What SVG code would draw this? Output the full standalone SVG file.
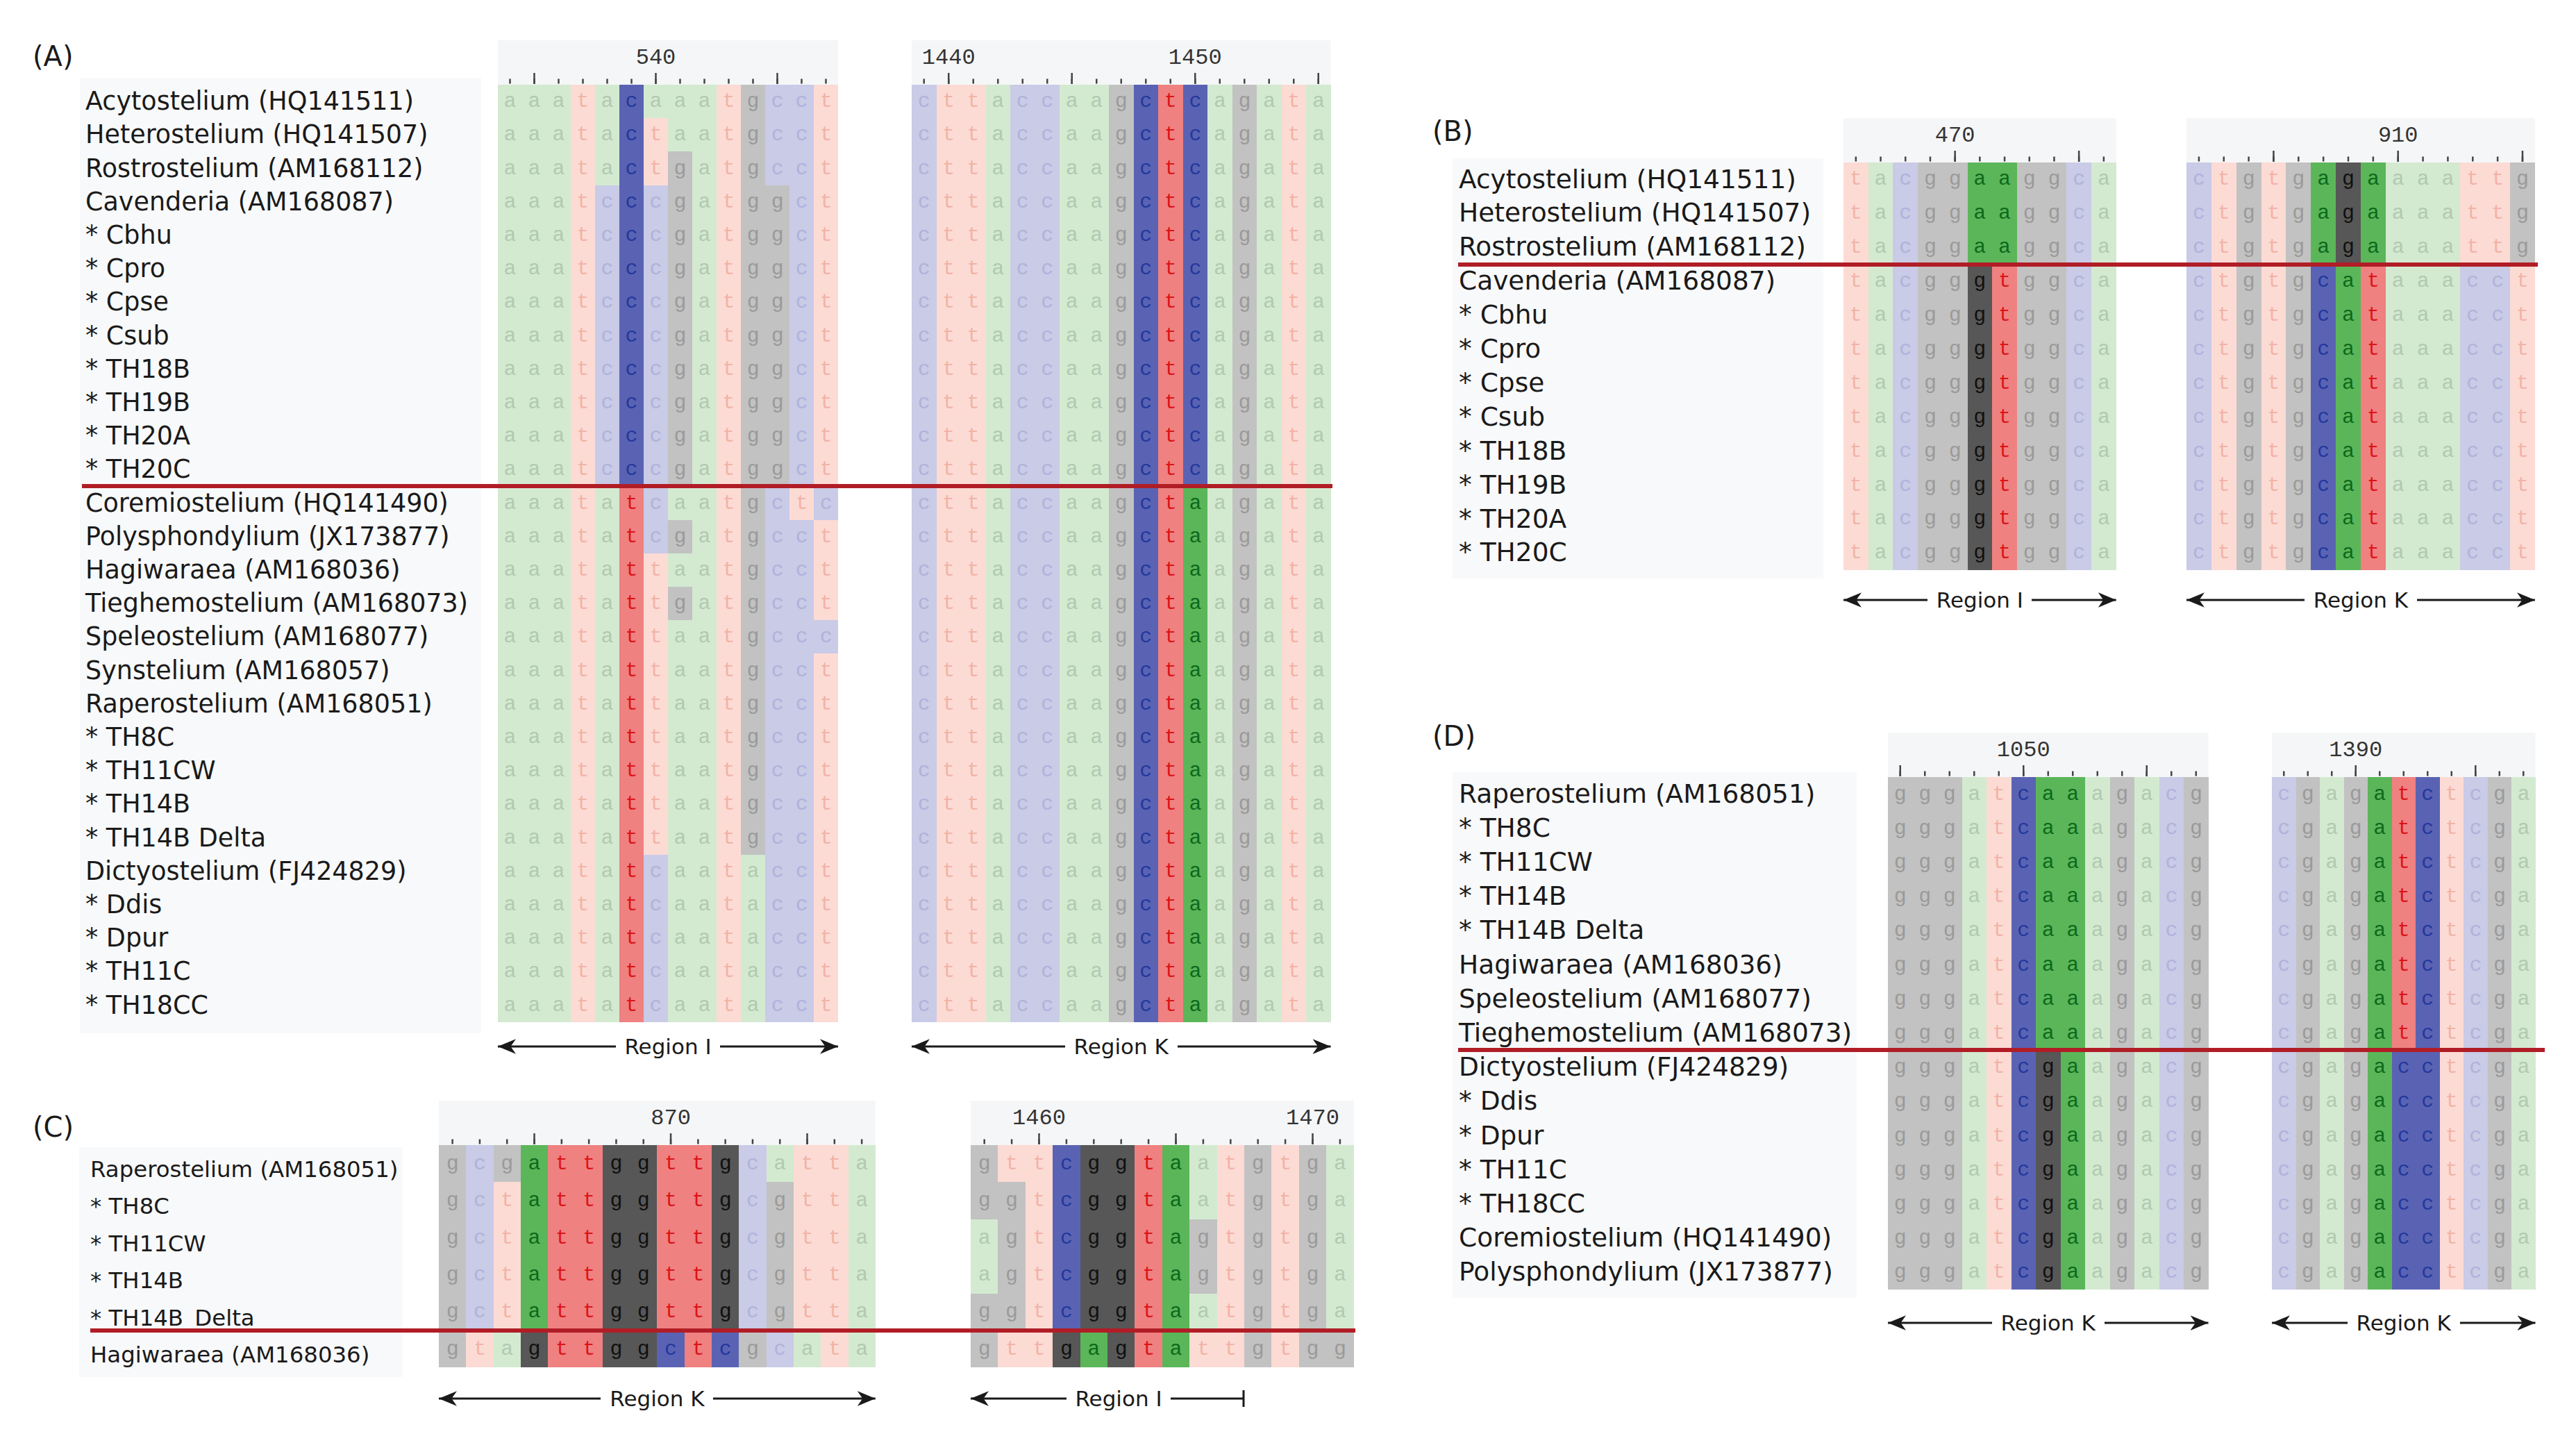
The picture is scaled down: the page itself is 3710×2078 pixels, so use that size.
<svg xmlns="http://www.w3.org/2000/svg" width="3710" height="2078" viewBox="0 0 3710 2078">
<style>
.n{font-family:"DejaVu Sans",Verdana,sans-serif;font-size:36.5px;fill:#1a1a1a}
.nb2{font-size:37.5px}
.nc{font-size:32.4px}
.sq{font-family:"Liberation Mono","Courier New",monospace;font-size:30px}
.sq .a{fill:#b2c9b0}.sq .t{fill:#f2b3a5}.sq .c{fill:#afb3da}.sq .g{fill:#9a9a9a}
.sq .ha{fill:#0b6a1c}.sq .ht{fill:#dc1418}.sq .hc{fill:#24389c}.sq .hg{fill:#101010}
.ba{fill:#d3ead1}.bt{fill:#fcdbd5}.bc{fill:#c9cbe7}.bg{fill:#c2c2c2}
.da{fill:#5bb659}.dt{fill:#ef8181}.dc{fill:#5a63b3}.dg{fill:#575757}
.rn{font-family:"Liberation Mono","Courier New",monospace;font-size:32px;fill:#333;text-anchor:middle}
.tk{stroke:#444;fill:none}
.rl{font-family:"DejaVu Sans",Verdana,sans-serif;font-size:31px;fill:#1a1a1a;text-anchor:middle}
.ar{stroke:#1a1a1a;stroke-width:3;fill:none}
.red{stroke:#b11d26;stroke-width:6}
.pl{font-family:"DejaVu Sans",Verdana,sans-serif;font-size:40px;fill:#1a1a1a}
.rb{fill:#f5f6f7}.nb{fill:#f8f9fa}
</style>
<defs>
<marker id="ah" viewBox="0 0 12 10" refX="12" refY="5" markerWidth="26" markerHeight="22" markerUnits="userSpaceOnUse" orient="auto"><path d="M0,0 L12,5 L0,10 L3.5,5 z" fill="#1a1a1a"/></marker>
<text id="a1r0" class="sq" letter-spacing="17"><tspan class="a">aaa</tspan><tspan class="t">t</tspan><tspan class="a">a</tspan><tspan class="hc">c</tspan><tspan class="a">aaa</tspan><tspan class="t">t</tspan><tspan class="g">g</tspan><tspan class="c">cc</tspan><tspan class="t">t</tspan></text>
<text id="a1r1" class="sq" letter-spacing="17"><tspan class="a">aaa</tspan><tspan class="t">t</tspan><tspan class="a">a</tspan><tspan class="hc">c</tspan><tspan class="t">t</tspan><tspan class="a">aa</tspan><tspan class="t">t</tspan><tspan class="g">g</tspan><tspan class="c">cc</tspan><tspan class="t">t</tspan></text>
<text id="a1r2" class="sq" letter-spacing="17"><tspan class="a">aaa</tspan><tspan class="t">t</tspan><tspan class="a">a</tspan><tspan class="hc">c</tspan><tspan class="t">t</tspan><tspan class="g">g</tspan><tspan class="a">a</tspan><tspan class="t">t</tspan><tspan class="g">g</tspan><tspan class="c">cc</tspan><tspan class="t">t</tspan></text>
<text id="a1r3" class="sq" letter-spacing="17"><tspan class="a">aaa</tspan><tspan class="t">t</tspan><tspan class="c">c</tspan><tspan class="hc">c</tspan><tspan class="c">c</tspan><tspan class="g">g</tspan><tspan class="a">a</tspan><tspan class="t">t</tspan><tspan class="g">gg</tspan><tspan class="c">c</tspan><tspan class="t">t</tspan></text>
<text id="a1r12" class="sq" letter-spacing="17"><tspan class="a">aaa</tspan><tspan class="t">t</tspan><tspan class="a">a</tspan><tspan class="ht">t</tspan><tspan class="c">c</tspan><tspan class="a">aa</tspan><tspan class="t">t</tspan><tspan class="g">g</tspan><tspan class="c">c</tspan><tspan class="t">t</tspan><tspan class="c">c</tspan></text>
<text id="a1r13" class="sq" letter-spacing="17"><tspan class="a">aaa</tspan><tspan class="t">t</tspan><tspan class="a">a</tspan><tspan class="ht">t</tspan><tspan class="c">c</tspan><tspan class="g">g</tspan><tspan class="a">a</tspan><tspan class="t">t</tspan><tspan class="g">g</tspan><tspan class="c">cc</tspan><tspan class="t">t</tspan></text>
<text id="a1r14" class="sq" letter-spacing="17"><tspan class="a">aaa</tspan><tspan class="t">t</tspan><tspan class="a">a</tspan><tspan class="ht">t</tspan><tspan class="t">t</tspan><tspan class="a">aa</tspan><tspan class="t">t</tspan><tspan class="g">g</tspan><tspan class="c">cc</tspan><tspan class="t">t</tspan></text>
<text id="a1r15" class="sq" letter-spacing="17"><tspan class="a">aaa</tspan><tspan class="t">t</tspan><tspan class="a">a</tspan><tspan class="ht">t</tspan><tspan class="t">t</tspan><tspan class="g">g</tspan><tspan class="a">a</tspan><tspan class="t">t</tspan><tspan class="g">g</tspan><tspan class="c">cc</tspan><tspan class="t">t</tspan></text>
<text id="a1r16" class="sq" letter-spacing="17"><tspan class="a">aaa</tspan><tspan class="t">t</tspan><tspan class="a">a</tspan><tspan class="ht">t</tspan><tspan class="t">t</tspan><tspan class="a">aa</tspan><tspan class="t">t</tspan><tspan class="g">g</tspan><tspan class="c">ccc</tspan></text>
<text id="a1r23" class="sq" letter-spacing="17"><tspan class="a">aaa</tspan><tspan class="t">t</tspan><tspan class="a">a</tspan><tspan class="ht">t</tspan><tspan class="c">c</tspan><tspan class="a">aa</tspan><tspan class="t">t</tspan><tspan class="a">a</tspan><tspan class="c">cc</tspan><tspan class="t">t</tspan></text>
<text id="a2r0" class="sq" letter-spacing="17.5"><tspan class="c">c</tspan><tspan class="t">tt</tspan><tspan class="a">a</tspan><tspan class="c">cc</tspan><tspan class="a">aa</tspan><tspan class="g">g</tspan><tspan class="hc">c</tspan><tspan class="ht">t</tspan><tspan class="hc">c</tspan><tspan class="a">a</tspan><tspan class="g">g</tspan><tspan class="a">a</tspan><tspan class="t">t</tspan><tspan class="a">a</tspan></text>
<text id="a2r1" class="sq" letter-spacing="17.5"><tspan class="c">c</tspan><tspan class="t">tt</tspan><tspan class="a">a</tspan><tspan class="c">cc</tspan><tspan class="a">aa</tspan><tspan class="g">g</tspan><tspan class="hc">c</tspan><tspan class="ht">t</tspan><tspan class="ha">a</tspan><tspan class="a">a</tspan><tspan class="g">g</tspan><tspan class="a">a</tspan><tspan class="t">t</tspan><tspan class="a">a</tspan></text>
<text id="b1r0" class="sq" letter-spacing="17.7"><tspan class="t">t</tspan><tspan class="a">a</tspan><tspan class="c">c</tspan><tspan class="g">gg</tspan><tspan class="ha">aa</tspan><tspan class="g">gg</tspan><tspan class="c">c</tspan><tspan class="a">a</tspan></text>
<text id="b1r1" class="sq" letter-spacing="17.7"><tspan class="t">t</tspan><tspan class="a">a</tspan><tspan class="c">c</tspan><tspan class="g">gg</tspan><tspan class="hg">g</tspan><tspan class="ht">t</tspan><tspan class="g">gg</tspan><tspan class="c">c</tspan><tspan class="a">a</tspan></text>
<text id="b2r0" class="sq" letter-spacing="17.85"><tspan class="c">c</tspan><tspan class="t">t</tspan><tspan class="g">g</tspan><tspan class="t">t</tspan><tspan class="g">g</tspan><tspan class="ha">a</tspan><tspan class="hg">g</tspan><tspan class="ha">a</tspan><tspan class="a">aaa</tspan><tspan class="t">tt</tspan><tspan class="g">g</tspan></text>
<text id="b2r1" class="sq" letter-spacing="17.85"><tspan class="c">c</tspan><tspan class="t">t</tspan><tspan class="g">g</tspan><tspan class="t">t</tspan><tspan class="g">g</tspan><tspan class="hc">c</tspan><tspan class="ha">a</tspan><tspan class="ht">t</tspan><tspan class="a">aaa</tspan><tspan class="c">cc</tspan><tspan class="t">t</tspan></text>
<text id="c1r0" class="sq" letter-spacing="21.3"><tspan class="g">g</tspan><tspan class="c">c</tspan><tspan class="g">g</tspan><tspan class="ha">a</tspan><tspan class="ht">tt</tspan><tspan class="hg">gg</tspan><tspan class="ht">tt</tspan><tspan class="hg">g</tspan><tspan class="c">c</tspan><tspan class="a">a</tspan><tspan class="t">tt</tspan><tspan class="a">a</tspan></text>
<text id="c1r1" class="sq" letter-spacing="21.3"><tspan class="g">g</tspan><tspan class="c">c</tspan><tspan class="t">t</tspan><tspan class="ha">a</tspan><tspan class="ht">tt</tspan><tspan class="hg">gg</tspan><tspan class="ht">tt</tspan><tspan class="hg">g</tspan><tspan class="c">c</tspan><tspan class="g">g</tspan><tspan class="t">tt</tspan><tspan class="a">a</tspan></text>
<text id="c1r5" class="sq" letter-spacing="21.3"><tspan class="g">g</tspan><tspan class="t">t</tspan><tspan class="a">a</tspan><tspan class="hg">g</tspan><tspan class="ht">tt</tspan><tspan class="hg">gg</tspan><tspan class="hc">c</tspan><tspan class="ht">t</tspan><tspan class="hc">c</tspan><tspan class="g">g</tspan><tspan class="c">c</tspan><tspan class="a">a</tspan><tspan class="t">t</tspan><tspan class="a">a</tspan></text>
<text id="c2r0" class="sq" letter-spacing="21.4"><tspan class="g">g</tspan><tspan class="t">tt</tspan><tspan class="hc">c</tspan><tspan class="hg">gg</tspan><tspan class="ht">t</tspan><tspan class="ha">a</tspan><tspan class="a">a</tspan><tspan class="t">t</tspan><tspan class="g">g</tspan><tspan class="t">t</tspan><tspan class="g">g</tspan><tspan class="a">a</tspan></text>
<text id="c2r1" class="sq" letter-spacing="21.4"><tspan class="g">gg</tspan><tspan class="t">t</tspan><tspan class="hc">c</tspan><tspan class="hg">gg</tspan><tspan class="ht">t</tspan><tspan class="ha">a</tspan><tspan class="a">a</tspan><tspan class="t">t</tspan><tspan class="g">g</tspan><tspan class="t">t</tspan><tspan class="g">g</tspan><tspan class="a">a</tspan></text>
<text id="c2r2" class="sq" letter-spacing="21.4"><tspan class="a">a</tspan><tspan class="g">g</tspan><tspan class="t">t</tspan><tspan class="hc">c</tspan><tspan class="hg">gg</tspan><tspan class="ht">t</tspan><tspan class="ha">a</tspan><tspan class="g">g</tspan><tspan class="t">t</tspan><tspan class="g">g</tspan><tspan class="t">t</tspan><tspan class="g">g</tspan><tspan class="a">a</tspan></text>
<text id="c2r5" class="sq" letter-spacing="21.4"><tspan class="g">g</tspan><tspan class="t">tt</tspan><tspan class="hg">g</tspan><tspan class="ha">a</tspan><tspan class="hg">g</tspan><tspan class="ht">t</tspan><tspan class="ha">a</tspan><tspan class="t">tt</tspan><tspan class="g">g</tspan><tspan class="t">t</tspan><tspan class="g">gg</tspan></text>
<text id="d1r0" class="sq" letter-spacing="17.5"><tspan class="g">ggg</tspan><tspan class="a">a</tspan><tspan class="t">t</tspan><tspan class="hc">c</tspan><tspan class="ha">aa</tspan><tspan class="a">a</tspan><tspan class="g">g</tspan><tspan class="a">a</tspan><tspan class="c">c</tspan><tspan class="g">g</tspan></text>
<text id="d1r1" class="sq" letter-spacing="17.5"><tspan class="g">ggg</tspan><tspan class="a">a</tspan><tspan class="t">t</tspan><tspan class="hc">c</tspan><tspan class="hg">g</tspan><tspan class="ha">a</tspan><tspan class="a">a</tspan><tspan class="g">g</tspan><tspan class="a">a</tspan><tspan class="c">c</tspan><tspan class="g">g</tspan></text>
<text id="d2r0" class="sq" letter-spacing="16.5"><tspan class="c">c</tspan><tspan class="g">g</tspan><tspan class="a">a</tspan><tspan class="g">g</tspan><tspan class="ha">a</tspan><tspan class="ht">t</tspan><tspan class="hc">c</tspan><tspan class="t">t</tspan><tspan class="c">c</tspan><tspan class="g">g</tspan><tspan class="a">a</tspan></text>
<text id="d2r1" class="sq" letter-spacing="16.5"><tspan class="c">c</tspan><tspan class="g">g</tspan><tspan class="a">a</tspan><tspan class="g">g</tspan><tspan class="ha">a</tspan><tspan class="hc">cc</tspan><tspan class="t">t</tspan><tspan class="c">c</tspan><tspan class="g">g</tspan><tspan class="a">a</tspan></text>
</defs>
<rect width="3710" height="2078" fill="#ffffff"/>

<g id="panelA">
<text class="pl" x="47" y="95">(A)</text>
<rect class="nb" x="115" y="112" width="578" height="1376"/>
<text class="n">
<tspan x="123" y="158.1">Acytostelium (HQ141511)</tspan>
<tspan x="123" y="206.3">Heterostelium (HQ141507)</tspan>
<tspan x="123" y="254.5">Rostrostelium (AM168112)</tspan>
<tspan x="123" y="302.7">Cavenderia (AM168087)</tspan>
<tspan x="123" y="350.9">* Cbhu</tspan>
<tspan x="123" y="399.1">* Cpro</tspan>
<tspan x="123" y="447.3">* Cpse</tspan>
<tspan x="123" y="495.5">* Csub</tspan>
<tspan x="123" y="543.7">* TH18B</tspan>
<tspan x="123" y="591.9">* TH19B</tspan>
<tspan x="123" y="640.1">* TH20A</tspan>
<tspan x="123" y="688.3">* TH20C</tspan>
<tspan x="123" y="736.5">Coremiostelium (HQ141490)</tspan>
<tspan x="123" y="784.7">Polysphondylium (JX173877)</tspan>
<tspan x="123" y="832.9">Hagiwaraea (AM168036)</tspan>
<tspan x="123" y="881.1">Tieghemostelium (AM168073)</tspan>
<tspan x="123" y="929.3">Speleostelium (AM168077)</tspan>
<tspan x="123" y="977.5">Synstelium (AM168057)</tspan>
<tspan x="123" y="1025.7">Raperostelium (AM168051)</tspan>
<tspan x="123" y="1073.9">* TH8C</tspan>
<tspan x="123" y="1122.1">* TH11CW</tspan>
<tspan x="123" y="1170.3">* TH14B</tspan>
<tspan x="123" y="1218.5">* TH14B Delta</tspan>
<tspan x="123" y="1266.7">Dictyostelium (FJ424829)</tspan>
<tspan x="123" y="1314.9">* Ddis</tspan>
<tspan x="123" y="1363.1">* Dpur</tspan>
<tspan x="123" y="1411.3">* TH11C</tspan>
<tspan x="123" y="1459.5">* TH18CC</tspan>
</text>

<g id="blockA1">
<rect class="rb" x="717" y="58" width="490" height="64"/>
<text class="rn" x="944.5" y="92">540</text>
<line class="tk" x1="733.25" y1="117" x2="1207" y2="117" stroke-width="7" stroke-dasharray="2.5 32.5"/>
<path class="tk" stroke-width="2.5" d="M769.5 105V121M944.5 105V121M1119.5 105V121"/>
<g transform="translate(717 122) scale(35 48.2)" shape-rendering="crispEdges">
<rect class="ba" x="0" y="0" width="3" height="28"/>
<rect class="bt" x="3" y="0" width="1" height="28"/>
<rect class="ba" x="4" y="0" width="1" height="3"/>
<rect class="bc" x="4" y="3" width="1" height="9"/>
<rect class="ba" x="4" y="12" width="1" height="16"/>
<rect class="dc" x="5" y="0" width="1" height="12"/>
<rect class="dt" x="5" y="12" width="1" height="16"/>
<rect class="ba" x="6" y="0" width="1" height="1"/>
<rect class="bt" x="6" y="1" width="1" height="2"/>
<rect class="bc" x="6" y="3" width="1" height="11"/>
<rect class="bt" x="6" y="14" width="1" height="9"/>
<rect class="bc" x="6" y="23" width="1" height="5"/>
<rect class="ba" x="7" y="0" width="1" height="2"/>
<rect class="bg" x="7" y="2" width="1" height="10"/>
<rect class="ba" x="7" y="12" width="1" height="1"/>
<rect class="bg" x="7" y="13" width="1" height="1"/>
<rect class="ba" x="7" y="14" width="1" height="1"/>
<rect class="bg" x="7" y="15" width="1" height="1"/>
<rect class="ba" x="7" y="16" width="1" height="12"/>
<rect class="ba" x="8" y="0" width="1" height="28"/>
<rect class="bt" x="9" y="0" width="1" height="28"/>
<rect class="bg" x="10" y="0" width="1" height="23"/>
<rect class="ba" x="10" y="23" width="1" height="5"/>
<rect class="bc" x="11" y="0" width="1" height="3"/>
<rect class="bg" x="11" y="3" width="1" height="9"/>
<rect class="bc" x="11" y="12" width="1" height="16"/>
<rect class="bc" x="12" y="0" width="1" height="12"/>
<rect class="bt" x="12" y="12" width="1" height="1"/>
<rect class="bc" x="12" y="13" width="1" height="15"/>
<rect class="bt" x="13" y="0" width="1" height="12"/>
<rect class="bc" x="13" y="12" width="1" height="1"/>
<rect class="bt" x="13" y="13" width="1" height="3"/>
<rect class="bc" x="13" y="16" width="1" height="1"/>
<rect class="bt" x="13" y="17" width="1" height="11"/>
</g>
<use href="#a1r0" x="725.5" y="154.1"/>
<use href="#a1r1" x="725.5" y="202.3"/>
<use href="#a1r2" x="725.5" y="250.5"/>
<use href="#a1r3" x="725.5" y="298.7"/>
<use href="#a1r3" x="725.5" y="346.9"/>
<use href="#a1r3" x="725.5" y="395.1"/>
<use href="#a1r3" x="725.5" y="443.3"/>
<use href="#a1r3" x="725.5" y="491.5"/>
<use href="#a1r3" x="725.5" y="539.7"/>
<use href="#a1r3" x="725.5" y="587.9"/>
<use href="#a1r3" x="725.5" y="636.1"/>
<use href="#a1r3" x="725.5" y="684.3"/>
<use href="#a1r12" x="725.5" y="732.5"/>
<use href="#a1r13" x="725.5" y="780.7"/>
<use href="#a1r14" x="725.5" y="828.9"/>
<use href="#a1r15" x="725.5" y="877.1"/>
<use href="#a1r16" x="725.5" y="925.3"/>
<use href="#a1r14" x="725.5" y="973.5"/>
<use href="#a1r14" x="725.5" y="1021.7"/>
<use href="#a1r14" x="725.5" y="1069.9"/>
<use href="#a1r14" x="725.5" y="1118.1"/>
<use href="#a1r14" x="725.5" y="1166.3"/>
<use href="#a1r14" x="725.5" y="1214.5"/>
<use href="#a1r23" x="725.5" y="1262.7"/>
<use href="#a1r23" x="725.5" y="1310.9"/>
<use href="#a1r23" x="725.5" y="1359.1"/>
<use href="#a1r23" x="725.5" y="1407.3"/>
<use href="#a1r23" x="725.5" y="1455.5"/>
</g>

<g id="blockA2">
<rect class="rb" x="1313" y="58" width="603.5" height="64"/>
<text class="rn" x="1366.25" y="92">1440</text>
<text class="rn" x="1721.25" y="92">1450</text>
<line class="tk" x1="1329.5" y1="117" x2="1916.5" y2="117" stroke-width="7" stroke-dasharray="2.5 33"/>
<path class="tk" stroke-width="2.5" d="M1366.25 105V121M1543.75 105V121M1721.25 105V121M1898.75 105V121"/>
<g transform="translate(1313 122) scale(35.5 48.2)" shape-rendering="crispEdges">
<rect class="bc" x="0" y="0" width="1" height="28"/>
<rect class="bt" x="1" y="0" width="2" height="28"/>
<rect class="ba" x="3" y="0" width="1" height="28"/>
<rect class="bc" x="4" y="0" width="2" height="28"/>
<rect class="ba" x="6" y="0" width="2" height="28"/>
<rect class="bg" x="8" y="0" width="1" height="28"/>
<rect class="dc" x="9" y="0" width="1" height="28"/>
<rect class="dt" x="10" y="0" width="1" height="28"/>
<rect class="dc" x="11" y="0" width="1" height="12"/>
<rect class="da" x="11" y="12" width="1" height="16"/>
<rect class="ba" x="12" y="0" width="1" height="28"/>
<rect class="bg" x="13" y="0" width="1" height="28"/>
<rect class="ba" x="14" y="0" width="1" height="28"/>
<rect class="bt" x="15" y="0" width="1" height="28"/>
<rect class="ba" x="16" y="0" width="1" height="28"/>
</g>
<use href="#a2r0" x="1321.75" y="154.1"/>
<use href="#a2r0" x="1321.75" y="202.3"/>
<use href="#a2r0" x="1321.75" y="250.5"/>
<use href="#a2r0" x="1321.75" y="298.7"/>
<use href="#a2r0" x="1321.75" y="346.9"/>
<use href="#a2r0" x="1321.75" y="395.1"/>
<use href="#a2r0" x="1321.75" y="443.3"/>
<use href="#a2r0" x="1321.75" y="491.5"/>
<use href="#a2r0" x="1321.75" y="539.7"/>
<use href="#a2r0" x="1321.75" y="587.9"/>
<use href="#a2r0" x="1321.75" y="636.1"/>
<use href="#a2r0" x="1321.75" y="684.3"/>
<use href="#a2r1" x="1321.75" y="732.5"/>
<use href="#a2r1" x="1321.75" y="780.7"/>
<use href="#a2r1" x="1321.75" y="828.9"/>
<use href="#a2r1" x="1321.75" y="877.1"/>
<use href="#a2r1" x="1321.75" y="925.3"/>
<use href="#a2r1" x="1321.75" y="973.5"/>
<use href="#a2r1" x="1321.75" y="1021.7"/>
<use href="#a2r1" x="1321.75" y="1069.9"/>
<use href="#a2r1" x="1321.75" y="1118.1"/>
<use href="#a2r1" x="1321.75" y="1166.3"/>
<use href="#a2r1" x="1321.75" y="1214.5"/>
<use href="#a2r1" x="1321.75" y="1262.7"/>
<use href="#a2r1" x="1321.75" y="1310.9"/>
<use href="#a2r1" x="1321.75" y="1359.1"/>
<use href="#a2r1" x="1321.75" y="1407.3"/>
<use href="#a2r1" x="1321.75" y="1455.5"/>
</g>

<line class="red" x1="118" y1="700" x2="1919" y2="700"/>
<g id="regionsA">
<line class="ar" x1="887" y1="1507" x2="717" y2="1507" marker-end="url(#ah)"/>
<line class="ar" x1="1037" y1="1507" x2="1207" y2="1507" marker-end="url(#ah)"/>
<text class="rl" x="962" y="1518">Region I</text>
<line class="ar" x1="1534" y1="1507" x2="1313" y2="1507" marker-end="url(#ah)"/>
<line class="ar" x1="1696" y1="1507" x2="1916.5" y2="1507" marker-end="url(#ah)"/>
<text class="rl" x="1614.75" y="1518">Region K</text>
</g>
</g>

<g id="panelB">
<text class="pl" x="2063" y="203">(B)</text>
<rect class="nb" x="2092" y="228" width="534" height="605"/>
<text class="n nb2">
<tspan x="2101" y="270.5">Acytostelium (HQ141511)</tspan>
<tspan x="2101" y="319.4">Heterostelium (HQ141507)</tspan>
<tspan x="2101" y="368.3">Rostrostelium (AM168112)</tspan>
<tspan x="2101" y="417.2">Cavenderia (AM168087)</tspan>
<tspan x="2101" y="466.1">* Cbhu</tspan>
<tspan x="2101" y="515">* Cpro</tspan>
<tspan x="2101" y="563.9">* Cpse</tspan>
<tspan x="2101" y="612.8">* Csub</tspan>
<tspan x="2101" y="661.7">* TH18B</tspan>
<tspan x="2101" y="710.6">* TH19B</tspan>
<tspan x="2101" y="759.5">* TH20A</tspan>
<tspan x="2101" y="808.4">* TH20C</tspan>
</text>
<g id="blockB1">
<rect class="rb" x="2655" y="170" width="392.7" height="64"/>
<text class="rn" x="2815.65" y="204">470</text>
<line class="tk" x1="2671.6" y1="229" x2="3047.7" y2="229" stroke-width="7" stroke-dasharray="2.5 33.2"/>
<path class="tk" stroke-width="2.5" d="M2815.65 217V233M2994.15 217V233"/>
<g transform="translate(2655 234) scale(35.7 48.9)" shape-rendering="crispEdges">
<rect class="bt" x="0" y="0" width="1" height="12"/>
<rect class="ba" x="1" y="0" width="1" height="12"/>
<rect class="bc" x="2" y="0" width="1" height="12"/>
<rect class="bg" x="3" y="0" width="2" height="12"/>
<rect class="da" x="5" y="0" width="2" height="3"/>
<rect class="dg" x="5" y="3" width="1" height="9"/>
<rect class="dt" x="6" y="3" width="1" height="9"/>
<rect class="bg" x="7" y="0" width="2" height="12"/>
<rect class="bc" x="9" y="0" width="1" height="12"/>
<rect class="ba" x="10" y="0" width="1" height="12"/>
</g>
<use href="#b1r0" x="2663.85" y="266.45"/>
<use href="#b1r0" x="2663.85" y="315.35"/>
<use href="#b1r0" x="2663.85" y="364.25"/>
<use href="#b1r1" x="2663.85" y="413.15"/>
<use href="#b1r1" x="2663.85" y="462.05"/>
<use href="#b1r1" x="2663.85" y="510.95"/>
<use href="#b1r1" x="2663.85" y="559.85"/>
<use href="#b1r1" x="2663.85" y="608.75"/>
<use href="#b1r1" x="2663.85" y="657.65"/>
<use href="#b1r1" x="2663.85" y="706.55"/>
<use href="#b1r1" x="2663.85" y="755.45"/>
<use href="#b1r1" x="2663.85" y="804.35"/>
</g>
<g id="blockB2">
<rect class="rb" x="3149" y="170" width="501.9" height="64"/>
<text class="rn" x="3453.7" y="204">910</text>
<line class="tk" x1="3165.675" y1="229" x2="3650.9" y2="229" stroke-width="7" stroke-dasharray="2.5 33.35"/>
<path class="tk" stroke-width="2.5" d="M3274.475 217V233M3453.725 217V233M3632.975 217V233"/>
<g transform="translate(3149 234) scale(35.85 48.9)" shape-rendering="crispEdges">
<rect class="bc" x="0" y="0" width="1" height="12"/>
<rect class="bt" x="1" y="0" width="1" height="12"/>
<rect class="bg" x="2" y="0" width="1" height="12"/>
<rect class="bt" x="3" y="0" width="1" height="12"/>
<rect class="bg" x="4" y="0" width="1" height="12"/>
<rect class="da" x="5" y="0" width="1" height="3"/>
<rect class="dc" x="5" y="3" width="1" height="9"/>
<rect class="dg" x="6" y="0" width="1" height="3"/>
<rect class="da" x="6" y="3" width="1" height="9"/>
<rect class="da" x="7" y="0" width="1" height="3"/>
<rect class="dt" x="7" y="3" width="1" height="9"/>
<rect class="ba" x="8" y="0" width="3" height="12"/>
<rect class="bt" x="11" y="0" width="2" height="3"/>
<rect class="bc" x="11" y="3" width="2" height="9"/>
<rect class="bg" x="13" y="0" width="1" height="3"/>
<rect class="bt" x="13" y="3" width="1" height="9"/>
</g>
<use href="#b2r0" x="3157.93" y="266.45"/>
<use href="#b2r0" x="3157.93" y="315.35"/>
<use href="#b2r0" x="3157.93" y="364.25"/>
<use href="#b2r1" x="3157.93" y="413.15"/>
<use href="#b2r1" x="3157.93" y="462.05"/>
<use href="#b2r1" x="3157.93" y="510.95"/>
<use href="#b2r1" x="3157.93" y="559.85"/>
<use href="#b2r1" x="3157.93" y="608.75"/>
<use href="#b2r1" x="3157.93" y="657.65"/>
<use href="#b2r1" x="3157.93" y="706.55"/>
<use href="#b2r1" x="3157.93" y="755.45"/>
<use href="#b2r1" x="3157.93" y="804.35"/>
</g>
<line class="red" x1="2100" y1="381" x2="3655" y2="381"/>
<g id="regionsB">
<line class="ar" x1="2776" y1="864" x2="2655" y2="864" marker-end="url(#ah)"/>
<line class="ar" x1="2926" y1="864" x2="3047.7" y2="864" marker-end="url(#ah)"/>
<text class="rl" x="2851.35" y="875">Region I</text>
<line class="ar" x1="3319" y1="864" x2="3149" y2="864" marker-end="url(#ah)"/>
<line class="ar" x1="3481" y1="864" x2="3650.9" y2="864" marker-end="url(#ah)"/>
<text class="rl" x="3399.95" y="875">Region K</text>
</g>
</g>

<g id="panelC">
<text class="pl" x="47" y="1637">(C)</text>
<rect class="nb" x="114" y="1652" width="466" height="331"/>
<text class="n nc">
<tspan x="130" y="1695">Raperostelium (AM168051)</tspan>
<tspan x="130" y="1748.4">* TH8C</tspan>
<tspan x="130" y="1801.8">* TH11CW</tspan>
<tspan x="130" y="1855.2">* TH14B</tspan>
<tspan x="130" y="1908.6">* TH14B_Delta</tspan>
<tspan x="130" y="1962">Hagiwaraea (AM168036)</tspan>
</text>
<g id="blockC1">
<rect class="rb" x="632" y="1585" width="628.8" height="64"/>
<text class="rn" x="966.05" y="1619">870</text>
<line class="tk" x1="650.4" y1="1644" x2="1260.8" y2="1644" stroke-width="7" stroke-dasharray="2.5 36.8"/>
<path class="tk" stroke-width="2.5" d="M769.55 1632V1648M966.05 1632V1648M1162.55 1632V1648"/>
<g transform="translate(632 1649) scale(39.3 53.4)" shape-rendering="crispEdges">
<rect class="bg" x="0" y="0" width="1" height="6"/>
<rect class="bc" x="1" y="0" width="1" height="5"/>
<rect class="bt" x="1" y="5" width="1" height="1"/>
<rect class="bg" x="2" y="0" width="1" height="1"/>
<rect class="bt" x="2" y="1" width="1" height="4"/>
<rect class="ba" x="2" y="5" width="1" height="1"/>
<rect class="da" x="3" y="0" width="1" height="5"/>
<rect class="dg" x="3" y="5" width="1" height="1"/>
<rect class="dt" x="4" y="0" width="2" height="6"/>
<rect class="dg" x="6" y="0" width="2" height="6"/>
<rect class="dt" x="8" y="0" width="1" height="5"/>
<rect class="dc" x="8" y="5" width="1" height="1"/>
<rect class="dt" x="9" y="0" width="1" height="6"/>
<rect class="dg" x="10" y="0" width="1" height="5"/>
<rect class="dc" x="10" y="5" width="1" height="1"/>
<rect class="bc" x="11" y="0" width="1" height="5"/>
<rect class="bg" x="11" y="5" width="1" height="1"/>
<rect class="ba" x="12" y="0" width="1" height="1"/>
<rect class="bg" x="12" y="1" width="1" height="4"/>
<rect class="bc" x="12" y="5" width="1" height="1"/>
<rect class="bt" x="13" y="0" width="1" height="5"/>
<rect class="ba" x="13" y="5" width="1" height="1"/>
<rect class="bt" x="14" y="0" width="1" height="6"/>
<rect class="ba" x="15" y="0" width="1" height="6"/>
</g>
<use href="#c1r0" x="642.65" y="1683.7"/>
<use href="#c1r1" x="642.65" y="1737.1"/>
<use href="#c1r1" x="642.65" y="1790.5"/>
<use href="#c1r1" x="642.65" y="1843.9"/>
<use href="#c1r1" x="642.65" y="1897.3"/>
<use href="#c1r5" x="642.65" y="1950.7"/>
</g>
<g id="blockC2">
<rect class="rb" x="1398" y="1585" width="551.6" height="64"/>
<text class="rn" x="1496.5" y="1619">1460</text>
<text class="rn" x="1890.5" y="1619">1470</text>
<line class="tk" x1="1416.45" y1="1644" x2="1949.6" y2="1644" stroke-width="7" stroke-dasharray="2.5 36.9"/>
<path class="tk" stroke-width="2.5" d="M1496.5 1632V1648M1693.5 1632V1648M1890.5 1632V1648"/>
<g transform="translate(1398 1649) scale(39.4 53.4)" shape-rendering="crispEdges">
<rect class="bg" x="0" y="0" width="1" height="2"/>
<rect class="ba" x="0" y="2" width="1" height="2"/>
<rect class="bg" x="0" y="4" width="1" height="2"/>
<rect class="bt" x="1" y="0" width="1" height="1"/>
<rect class="bg" x="1" y="1" width="1" height="4"/>
<rect class="bt" x="1" y="5" width="1" height="1"/>
<rect class="bt" x="2" y="0" width="1" height="6"/>
<rect class="dc" x="3" y="0" width="1" height="5"/>
<rect class="dg" x="3" y="5" width="1" height="1"/>
<rect class="dg" x="4" y="0" width="1" height="5"/>
<rect class="da" x="4" y="5" width="1" height="1"/>
<rect class="dg" x="5" y="0" width="1" height="6"/>
<rect class="dt" x="6" y="0" width="1" height="6"/>
<rect class="da" x="7" y="0" width="1" height="6"/>
<rect class="ba" x="8" y="0" width="1" height="2"/>
<rect class="bg" x="8" y="2" width="1" height="2"/>
<rect class="ba" x="8" y="4" width="1" height="1"/>
<rect class="bt" x="8" y="5" width="1" height="1"/>
<rect class="bt" x="9" y="0" width="1" height="6"/>
<rect class="bg" x="10" y="0" width="1" height="6"/>
<rect class="bt" x="11" y="0" width="1" height="6"/>
<rect class="bg" x="12" y="0" width="1" height="6"/>
<rect class="ba" x="13" y="0" width="1" height="5"/>
<rect class="bg" x="13" y="5" width="1" height="1"/>
</g>
<use href="#c2r0" x="1408.7" y="1683.7"/>
<use href="#c2r1" x="1408.7" y="1737.1"/>
<use href="#c2r2" x="1408.7" y="1790.5"/>
<use href="#c2r2" x="1408.7" y="1843.9"/>
<use href="#c2r1" x="1408.7" y="1897.3"/>
<use href="#c2r5" x="1408.7" y="1950.7"/>
</g>
<line class="red" x1="130" y1="1916" x2="1952" y2="1916"/>
<g id="regionsC">
<line class="ar" x1="865" y1="2014" x2="632" y2="2014" marker-end="url(#ah)"/>
<line class="ar" x1="1027" y1="2014" x2="1260.8" y2="2014" marker-end="url(#ah)"/>
<text class="rl" x="946.4" y="2025">Region K</text>
<line class="ar" x1="1536" y1="2014" x2="1398" y2="2014" marker-end="url(#ah)"/>
<line class="ar" x1="1686" y1="2014" x2="1791" y2="2014"/>
<line class="ar" x1="1791" y1="2002" x2="1791" y2="2026"/>
<text class="rl" x="1611" y="2025">Region I</text>
</g>
</g>

<g id="panelD">
<text class="pl" x="2063" y="1074">(D)</text>
<rect class="nb" x="2092" y="1112" width="582" height="757"/>
<text class="n nb2">
<tspan x="2101" y="1155.6">Raperostelium (AM168051)</tspan>
<tspan x="2101" y="1204.8">* TH8C</tspan>
<tspan x="2101" y="1254">* TH11CW</tspan>
<tspan x="2101" y="1303.2">* TH14B</tspan>
<tspan x="2101" y="1352.4">* TH14B Delta</tspan>
<tspan x="2101" y="1401.6">Hagiwaraea (AM168036)</tspan>
<tspan x="2101" y="1450.8">Speleostelium (AM168077)</tspan>
<tspan x="2101" y="1500">Tieghemostelium (AM168073)</tspan>
<tspan x="2101" y="1549.2">Dictyostelium (FJ424829)</tspan>
<tspan x="2101" y="1598.4">* Ddis</tspan>
<tspan x="2101" y="1647.6">* Dpur</tspan>
<tspan x="2101" y="1696.8">* TH11C</tspan>
<tspan x="2101" y="1746">* TH18CC</tspan>
<tspan x="2101" y="1795.2">Coremiostelium (HQ141490)</tspan>
<tspan x="2101" y="1844.4">Polysphondylium (JX173877)</tspan>
</text>
<g id="blockD1">
<rect class="rb" x="2719" y="1055" width="461.5" height="64"/>
<text class="rn" x="2914.25" y="1089">1050</text>
<line class="tk" x1="2735.5" y1="1114" x2="3180.5" y2="1114" stroke-width="7" stroke-dasharray="2.5 33"/>
<path class="tk" stroke-width="2.5" d="M2736.75 1102V1118M2914.25 1102V1118M3091.75 1102V1118"/>
<g transform="translate(2719 1119) scale(35.5 49.2)" shape-rendering="crispEdges">
<rect class="bg" x="0" y="0" width="3" height="15"/>
<rect class="ba" x="3" y="0" width="1" height="15"/>
<rect class="bt" x="4" y="0" width="1" height="15"/>
<rect class="dc" x="5" y="0" width="1" height="15"/>
<rect class="da" x="6" y="0" width="1" height="8"/>
<rect class="dg" x="6" y="8" width="1" height="7"/>
<rect class="da" x="7" y="0" width="1" height="15"/>
<rect class="ba" x="8" y="0" width="1" height="15"/>
<rect class="bg" x="9" y="0" width="1" height="15"/>
<rect class="ba" x="10" y="0" width="1" height="15"/>
<rect class="bc" x="11" y="0" width="1" height="15"/>
<rect class="bg" x="12" y="0" width="1" height="15"/>
</g>
<use href="#d1r0" x="2727.75" y="1151.6"/>
<use href="#d1r0" x="2727.75" y="1200.8"/>
<use href="#d1r0" x="2727.75" y="1250"/>
<use href="#d1r0" x="2727.75" y="1299.2"/>
<use href="#d1r0" x="2727.75" y="1348.4"/>
<use href="#d1r0" x="2727.75" y="1397.6"/>
<use href="#d1r0" x="2727.75" y="1446.8"/>
<use href="#d1r0" x="2727.75" y="1496"/>
<use href="#d1r1" x="2727.75" y="1545.2"/>
<use href="#d1r1" x="2727.75" y="1594.4"/>
<use href="#d1r1" x="2727.75" y="1643.6"/>
<use href="#d1r1" x="2727.75" y="1692.8"/>
<use href="#d1r1" x="2727.75" y="1742"/>
<use href="#d1r1" x="2727.75" y="1791.2"/>
<use href="#d1r1" x="2727.75" y="1840.4"/>
</g>
<g id="blockD2">
<rect class="rb" x="3272" y="1055" width="379.5" height="64"/>
<text class="rn" x="3392.75" y="1089">1390</text>
<line class="tk" x1="3288" y1="1114" x2="3651.5" y2="1114" stroke-width="7" stroke-dasharray="2.5 32"/>
<path class="tk" stroke-width="2.5" d="M3392.75 1102V1118M3565.25 1102V1118"/>
<g transform="translate(3272 1119) scale(34.5 49.2)" shape-rendering="crispEdges">
<rect class="bc" x="0" y="0" width="1" height="15"/>
<rect class="bg" x="1" y="0" width="1" height="15"/>
<rect class="ba" x="2" y="0" width="1" height="15"/>
<rect class="bg" x="3" y="0" width="1" height="15"/>
<rect class="da" x="4" y="0" width="1" height="15"/>
<rect class="dt" x="5" y="0" width="1" height="8"/>
<rect class="dc" x="5" y="8" width="1" height="7"/>
<rect class="dc" x="6" y="0" width="1" height="15"/>
<rect class="bt" x="7" y="0" width="1" height="15"/>
<rect class="bc" x="8" y="0" width="1" height="15"/>
<rect class="bg" x="9" y="0" width="1" height="15"/>
<rect class="ba" x="10" y="0" width="1" height="15"/>
</g>
<use href="#d2r0" x="3280.25" y="1151.6"/>
<use href="#d2r0" x="3280.25" y="1200.8"/>
<use href="#d2r0" x="3280.25" y="1250"/>
<use href="#d2r0" x="3280.25" y="1299.2"/>
<use href="#d2r0" x="3280.25" y="1348.4"/>
<use href="#d2r0" x="3280.25" y="1397.6"/>
<use href="#d2r0" x="3280.25" y="1446.8"/>
<use href="#d2r0" x="3280.25" y="1496"/>
<use href="#d2r1" x="3280.25" y="1545.2"/>
<use href="#d2r1" x="3280.25" y="1594.4"/>
<use href="#d2r1" x="3280.25" y="1643.6"/>
<use href="#d2r1" x="3280.25" y="1692.8"/>
<use href="#d2r1" x="3280.25" y="1742"/>
<use href="#d2r1" x="3280.25" y="1791.2"/>
<use href="#d2r1" x="3280.25" y="1840.4"/>
</g>
<line class="red" x1="2100" y1="1512" x2="3665" y2="1512"/>
<g id="regionsD">
<line class="ar" x1="2869" y1="1905" x2="2719" y2="1905" marker-end="url(#ah)"/>
<line class="ar" x1="3031" y1="1905" x2="3180.5" y2="1905" marker-end="url(#ah)"/>
<text class="rl" x="2949.75" y="1916">Region K</text>
<line class="ar" x1="3381" y1="1905" x2="3272" y2="1905" marker-end="url(#ah)"/>
<line class="ar" x1="3543" y1="1905" x2="3651.5" y2="1905" marker-end="url(#ah)"/>
<text class="rl" x="3461.75" y="1916">Region K</text>
</g>
</g>
</svg>
